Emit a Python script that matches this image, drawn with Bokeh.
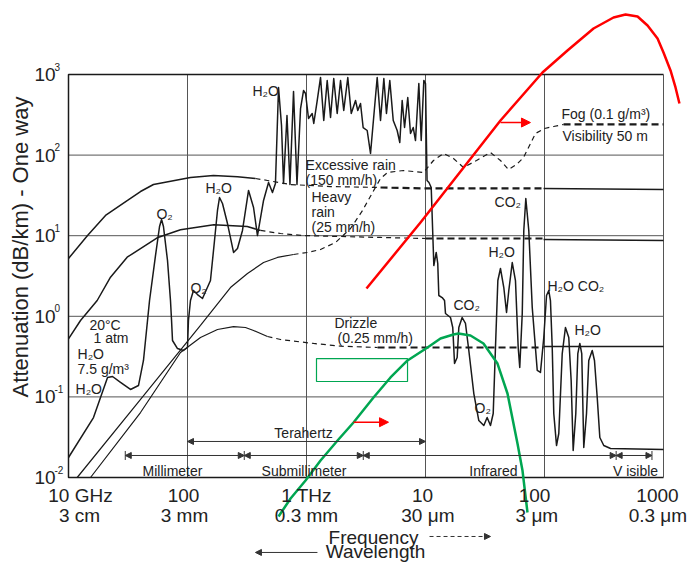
import numpy as np
from bokeh.plotting import figure
from bokeh.models import Range1d, ColumnDataSource, Arrow, NormalHead
from bokeh.core.properties import value
from bokeh.embed import file_html
from bokeh.resources import INLINE

# ---------------- data: log10(frequency / GHz), log10(attenuation / dB/km) ----------------
rain150_solid_lf = [1.000, 1.160, 1.311, 1.496, 1.605, 1.714, 2.025, 2.218, 2.420, 2.571]
rain150_solid_ld = [0.717, 1.002, 1.251, 1.437, 1.548, 1.635, 1.722, 1.747, 1.730, 1.710]
rain150_dash_lf = [2.571, 2.672, 2.866, 3.202, 3.622]
rain150_dash_ld = [1.710, 1.685, 1.635, 1.610, 1.598]
rain150_bold_lf = [3.622, 4.000, 4.992]
rain150_bold_ld = [1.598, 1.586, 1.586]
rain150_end_lf = [4.992, 6.000]
rain150_end_ld = [1.586, 1.573]

rain25_solid_lf = [1.000, 1.101, 1.241, 1.353, 1.493, 1.745, 1.941, 2.053, 2.221, 2.502, 2.613]
rain25_solid_ld = [-0.279, -0.052, 0.196, 0.485, 0.733, 0.974, 1.073, 1.098, 1.135, 1.114, 1.065]
rain25_dash_lf = [2.613, 2.782, 2.975, 3.286, 3.622, 4.000]
rain25_dash_ld = [1.065, 1.027, 1.002, 0.990, 0.978, 0.965]
rain25_bold_lf = [4.000, 4.992]
rain25_bold_ld = [0.965, 0.965]
rain25_end_lf = [4.992, 6.000]
rain25_end_ld = [0.953, 0.940]

fog_solid_lf = [1.073, 1.597, 2.109, 2.361, 2.504, 2.639, 2.756, 2.891]
fog_solid_ld = [-2.000, -1.045, -0.114, 0.357, 0.531, 0.667, 0.730, 0.767]
fog_dash_lf = [2.891, 3.008, 3.118, 3.244, 3.370, 3.471, 3.555, 3.622, 3.681, 3.815, 3.983,
               4.067, 4.151, 4.235, 4.319, 4.429, 4.546, 4.630, 4.697, 4.765, 4.824, 4.874,
               4.924, 5.000, 5.076, 5.160]
fog_dash_ld = [0.767, 0.792, 0.829, 0.916, 1.089, 1.313, 1.536, 1.710, 1.784, 1.809, 1.784,
               1.933, 2.020, 1.958, 1.846, 1.933, 2.032, 1.933, 1.821, 1.883, 1.970, 2.119,
               2.268, 2.330, 2.355, 2.380]
fog_bold_lf = [5.160, 6.000]
fog_bold_ld = [2.380, 2.380]

drizzle_solid_lf = [1.185, 1.605, 1.941, 2.109, 2.252, 2.387, 2.487, 2.555, 2.672]
drizzle_solid_ld = [-2.000, -1.194, -0.449, -0.263, -0.164, -0.127, -0.139, -0.176, -0.251]
drizzle_dash_lf = [2.672, 2.782, 3.059, 3.286, 3.597]
drizzle_dash_ld = [-0.251, -0.288, -0.337, -0.371, -0.387]
drizzle_bold_lf = [3.597, 4.992]
drizzle_bold_ld = [-0.387, -0.387]
drizzle_end_lf = [4.992, 6.000]
drizzle_end_ld = [-0.375, -0.375]

gas_lf = [1.000, 1.210, 1.328, 1.370, 1.437, 1.521, 1.588, 1.630, 1.664, 1.681, 1.731, 1.765,
          1.782, 1.798, 1.832, 1.857, 1.866, 1.874, 1.916, 1.966, 2.000, 2.008, 2.025, 2.050,
          2.084, 2.126, 2.193, 2.227, 2.252, 2.269, 2.294, 2.336, 2.387, 2.420, 2.462, 2.513,
          2.555, 2.588, 2.639, 2.681, 2.714, 2.739, 2.765, 2.790, 2.807, 2.836, 2.861, 2.891,
          2.920, 2.950, 2.975, 2.992, 3.017, 3.048, 3.061, 3.090, 3.118, 3.145, 3.174, 3.202,
          3.229, 3.258, 3.286, 3.313, 3.347, 3.376, 3.412, 3.431, 3.454, 3.476, 3.510, 3.538,
          3.594, 3.622, 3.650, 3.672, 3.700, 3.729, 3.762, 3.784, 3.804, 3.824, 3.851, 3.874,
          3.897, 3.916, 3.944, 3.964, 3.986, 4.000, 4.013, 4.029, 4.048, 4.065, 4.070, 4.090,
          4.103, 4.112, 4.140, 4.160, 4.168, 4.210, 4.229, 4.244, 4.266, 4.280, 4.308, 4.336,
          4.364, 4.406, 4.448, 4.490, 4.518, 4.546, 4.569, 4.588, 4.608, 4.630, 4.658, 4.681,
          4.700, 4.729, 4.756, 4.779, 4.792, 4.813, 4.826, 4.843, 4.868, 4.897, 4.939, 4.966,
          4.994, 5.017, 5.036, 5.050, 5.065, 5.078, 5.101, 5.120, 5.149, 5.176, 5.204, 5.224,
          5.241, 5.263, 5.280, 5.297, 5.313, 5.330, 5.353, 5.372, 5.401, 5.420, 5.443, 5.465,
          5.498, 5.555, 6.000]
gas_ld = [-1.752, -1.256, -0.759, -0.747, -0.821, -0.908, -0.859, -0.548, -0.052, 0.196, 0.754, 1.114,
          1.201, 1.114, 0.692, 0.196, -0.052, -0.300, -0.400, -0.424, -0.387, -0.052, 0.196, 0.320,
          0.270, 0.221, 0.444, 0.940, 1.313, 1.474, 1.400, 1.151, 0.792, 0.841, 1.065, 1.561,
          1.350, 1.002, 1.437, 1.660, 1.536, 1.648, 2.839, 2.367, 1.648, 2.491, 1.635, 2.789,
          1.635, 2.578, 2.801, 2.764, 2.454, 2.516, 2.392, 2.677, 2.963, 2.429, 2.926, 2.466,
          2.950, 2.516, 2.926, 2.553, 2.963, 2.516, 2.677, 2.553, 2.640, 2.342, 2.305, 2.020,
          2.963, 2.429, 2.950, 2.516, 2.926, 2.429, 2.305, 2.156, 2.677, 2.342, 2.715, 2.268,
          2.342, 2.181, 2.888, 2.181, 2.926, 2.888, 1.685, 1.660, 1.598, 0.854, 0.630, 0.792,
          0.655, 0.258, 0.233, 0.196, 0.035, -0.015, -0.139, -0.586, -0.511, -0.139, -0.015, -0.089,
          -0.424, -0.958, -1.293, -1.355, -1.256, -1.355, -1.206, -0.387, 0.444, 0.593, 0.357, 0.047,
          0.320, 0.667, 0.444, -0.387, -0.635, 0.035, 1.065, 1.462, 1.065, 0.109, -0.672, -0.697,
          -0.263, 0.258, 0.320, 0.196, -0.387, -1.206, -1.603, -1.454, -0.462, -0.139, -0.263, -0.797,
          -1.665, -1.206, -0.462, -0.337, -0.462, -1.628, -1.206, -0.548, -0.424, -0.548, -1.007, -1.504,
          -1.603, -1.640, -1.653]

sun_lf = [3.504, 3.958, 4.235, 4.630, 4.983, 5.193, 5.412, 5.580, 5.681, 5.782, 5.866, 5.950,
          6.000, 6.059, 6.101, 6.134]
sun_lv = [0.345, 1.164, 1.685, 2.429, 3.025, 3.298, 3.571, 3.707, 3.744, 3.720, 3.608, 3.447,
          3.273, 3.050, 2.839, 2.640]
earth_lf = [2.765, 2.866, 2.992, 3.118, 3.261, 3.395, 3.563, 3.706, 3.849, 4.017, 4.126, 4.235,
            4.277, 4.378, 4.487, 4.605, 4.689, 4.773, 4.815, 4.857]
earth_lv = [-2.484, -2.261, -2.037, -1.789, -1.541, -1.318, -1.007, -0.759, -0.548, -0.387, -0.275, -0.226,
            -0.213, -0.238, -0.337, -0.586, -0.958, -1.578, -1.913, -2.434]

box_lf = [3.084, 3.849]          # green box: left, right
box_ld = [-0.809, -0.524]        # bottom, top
red_arrow_lf = [[4.630, 4.882], [3.395, 3.689]]
red_arrow_ld = [2.404, -1.314]

band_edges_ghz = [30, 300, 3000, 4e5, 8e5]
band_names = ["Millimeter", "Submillimeter", "Infrared", "V isible"]
band_label_lf = [1.874, 2.979, 4.571, 5.765]
thz_band_ghz = [100, 1e4]

x_ticks_ghz = [10, 100, 1e3, 1e4, 1e5, 1e6]
x_labels_freq = ["10 GHz", "100", "1 THz", "10", "100", "1000"]
x_labels_wave = ["3 cm", "3 mm", "0.3 mm", "30  \u03bcm", "3  \u03bcm", "0.3  \u03bcm"]
y_ticks = [1e-2, 1e-1, 1e0, 1e1, 1e2, 1e3]
y_exponents = ["-2", "-1", "0", "1", "2", "3"]

labels = [
    ("H\u2082O", 2.546, 2.801), ("Excessive rain", 2.992, 1.883), ("(150 mm/h)", 2.992, 1.697),
    ("Fog (0.1 g/m\u00b3)", 5.143, 2.516), ("Visibility 50 m", 5.151, 2.243),
    ("Heavy", 3.042, 1.474), ("rain", 3.042, 1.300), ("(25 mm/h)", 3.042, 1.114),
    ("H\u2082O", 2.151, 1.586), ("O\u2082", 1.739, 1.275), ("O\u2082", 2.025, 0.345),
    ("20\u00b0C", 1.176, -0.102), ("1 atm", 1.210, -0.275), ("H\u2082O", 1.076, -0.462),
    ("7.5 g/m\u00b3", 1.076, -0.648), ("H\u2082O", 1.059, -0.896),
    ("Drizzle", 3.235, -0.089), ("(0.25 mm/h)", 3.261, -0.275),
    ("CO\u2082", 4.580, 1.412), ("H\u2082O", 4.529, 0.792), ("H\u2082O CO\u2082", 5.025, 0.382),
    ("CO\u2082", 4.235, 0.134), ("H\u2082O", 5.252, -0.176), ("O\u2082", 4.412, -1.132),
]


def pw(a):
    return 10.0 ** np.asarray(a, dtype=float)


FONT = value("Liberation Sans")
INK = "#1a1a1a"
TXT = "#222222"
GRID = "#555555"

p = figure(width=692, height=563, x_axis_type="log", y_axis_type="log",
           x_range=Range1d(10 ** (1 - 68 / 119), 10 ** (1 + 624 / 119)),
           y_range=Range1d(10 ** (3 - 489 / 80.6), 10 ** (3 + 74 / 80.6)),
           x_axis_location=None, y_axis_location=None,
           toolbar_location=None, output_backend="svg", min_border=0)
p.grid.grid_line_color = None
p.outline_line_color = None
p.background_fill_color = "white"
p.border_fill_color = "white"

x_lo, x_hi = x_ticks_ghz[0], x_ticks_ghz[-1]
y_lo, y_hi = y_ticks[0], y_ticks[-1]

# grid
gy = y_ticks[1:-1]
gx = x_ticks_ghz[1:-1]
p.segment(x0=[x_lo] * len(gy), x1=[x_hi] * len(gy), y0=gy, y1=gy, line_color=GRID, line_width=1)
p.segment(x0=gx, x1=gx, y0=[y_lo] * len(gx), y1=[y_hi] * len(gx), line_color=GRID, line_width=1)
# frame
p.line([x_hi, x_lo, x_lo, x_hi], [y_hi, y_hi, y_lo, y_lo], line_color=INK, line_width=1.5)
p.line([x_hi, x_hi], [y_lo, y_hi], line_color=GRID, line_width=1)

THIN = dict(line_color=INK, line_width=1.2, line_dash="5 4")
BOLD = dict(line_color=INK, line_width=2.2, line_dash="7 4")
SOLID = dict(line_color=INK, line_width=1.5)

for lf, ld, st in [
    (rain150_solid_lf, rain150_solid_ld, SOLID), (rain150_dash_lf, rain150_dash_ld, THIN),
    (rain150_bold_lf, rain150_bold_ld, BOLD), (rain150_end_lf, rain150_end_ld, SOLID),
    (rain25_solid_lf, rain25_solid_ld, SOLID), (rain25_dash_lf, rain25_dash_ld, THIN),
    (rain25_bold_lf, rain25_bold_ld, BOLD), (rain25_end_lf, rain25_end_ld, SOLID),
    (fog_solid_lf, fog_solid_ld, dict(line_color=INK, line_width=1.2)),
    (fog_dash_lf, fog_dash_ld, THIN), (fog_bold_lf, fog_bold_ld, BOLD),
    (drizzle_solid_lf, drizzle_solid_ld, dict(line_color=INK, line_width=1.2)),
    (drizzle_dash_lf, drizzle_dash_ld, THIN), (drizzle_bold_lf, drizzle_bold_ld, BOLD),
    (drizzle_end_lf, drizzle_end_ld, SOLID),
]:
    p.line(pw(lf), pw(ld), **st)

p.line(pw(gas_lf), pw(gas_ld), line_color=INK, line_width=1.5, line_join="round")

# blackbody curves
p.line(pw(sun_lf), pw(sun_lv), line_color="#ff0000", line_width=2.5, line_join="round")
p.line(pw(earth_lf), pw(earth_lv), line_color="#00a651", line_width=2.5, line_join="round")
p.quad(left=[pw(box_lf[0])], right=[pw(box_lf[1])], bottom=[pw(box_ld[0])], top=[pw(box_ld[1])],
       fill_color=None, line_color="#00a651", line_width=1.2)
for (a0, a1), ay in zip(red_arrow_lf, red_arrow_ld):
    p.add_layout(Arrow(x_start=pw(a0), y_start=pw(ay), x_end=pw(a1), y_end=pw(ay),
                       line_color="#ff0000", line_width=1.5,
                       end=NormalHead(size=9, fill_color="#ff0000", line_color="#ff0000")))

# spectral bands
band_y = pw(-1.727)
src = ColumnDataSource(dict(x0=band_edges_ghz[:-1], x1=band_edges_ghz[1:], y=[band_y] * 4))
p.add_layout(Arrow(x_start="x0", y_start="y", x_end="x1", y_end="y", source=src,
                   line_color="#333333", line_width=1,
                   start=NormalHead(size=6, fill_color="#333333", line_color="#333333"),
                   end=NormalHead(size=6, fill_color="#333333", line_color="#333333")))
p.scatter(x=band_edges_ghz, y=[band_y] * len(band_edges_ghz), marker="dash", angle=np.pi / 2,
          size=9, line_color="#333333", line_width=1)
p.text(x=pw(band_label_lf), y=[pw(-1.92)] * 4, text=band_names, text_font=FONT,
       text_font_size="14px", text_color=TXT, text_align="center", text_baseline="middle")
thz_y = pw(-1.553)
p.add_layout(Arrow(x_start=thz_band_ghz[0], y_start=thz_y, x_end=thz_band_ghz[1], y_end=thz_y,
                   line_color="#333333", line_width=1,
                   start=NormalHead(size=6, fill_color="#333333", line_color="#333333"),
                   end=NormalHead(size=6, fill_color="#333333", line_color="#333333")))
p.text(x=[pw(2.975)], y=[pw(-1.442)], text=["Terahertz"], text_font=FONT, text_font_size="14px",
       text_color=TXT, text_align="center", text_baseline="middle")

# in-plot labels
p.text(x=pw([l[1] for l in labels]), y=pw([l[2] for l in labels]), text=[l[0] for l in labels],
       text_font=FONT, text_font_size="14px", text_color=TXT, text_align="left",
       text_baseline="middle")

# x tick labels (two rows)
p.text(x=x_ticks_ghz, y=[y_lo] * 6, text=x_labels_freq, text_font=FONT, text_font_size="19px",
       text_color=TXT, text_align="center", text_baseline="middle",
       x_offset=[12, -4, 0, -3, -10, -6], y_offset=18)
p.text(x=x_ticks_ghz, y=[y_lo] * 6, text=x_labels_wave, text_font=FONT, text_font_size="19px",
       text_color=TXT, text_align="center", text_baseline="middle",
       x_offset=[11, -3, 0, 5, -5, -3], y_offset=38)

# y tick labels
p.text(x=[x_lo] * 6, y=y_ticks, text=["10"] * 6, text_font=FONT, text_font_size="19px",
       text_color=TXT, text_align="left", text_baseline="middle", x_offset=-34, y_offset=0)
p.text(x=[x_lo] * 6, y=y_ticks, text=y_exponents, text_font=FONT, text_font_size="10px",
       text_color=TXT, text_align="left", text_baseline="middle", x_offset=-14, y_offset=-8)

# axis titles
p.text(x=[pw(0.597)], y=[pw(0.86)], text=["Attenuation (dB/km) - One way"], text_font=FONT,
       text_font_size="22px", text_color=TXT, text_align="center", text_baseline="middle",
       angle=np.pi / 2)
p.text(x=[pw(3.563)], y=[pw(-2.744)], text=["Frequency"], text_font=FONT, text_font_size="19px",
       text_color=TXT, text_align="center", text_baseline="middle")
p.add_layout(Arrow(x_start=pw(4.034), y_start=pw(-2.732), x_end=pw(4.546), y_end=pw(-2.732),
                   line_color="#333333", line_width=1, line_dash="4 3",
                   end=NormalHead(size=6, fill_color="#333333", line_color="#333333")))
p.text(x=[pw(3.58)], y=[pw(-2.92)], text=["Wavelength"], text_font=FONT, text_font_size="19px",
       text_color=TXT, text_align="center", text_baseline="middle")
p.add_layout(Arrow(x_start=pw(3.092), y_start=pw(-2.93), x_end=pw(2.571), y_end=pw(-2.93),
                   line_color="#333333", line_width=1,
                   end=NormalHead(size=6, fill_color="#333333", line_color="#333333")))

open("out.html", "w").write(file_html(p, INLINE))
